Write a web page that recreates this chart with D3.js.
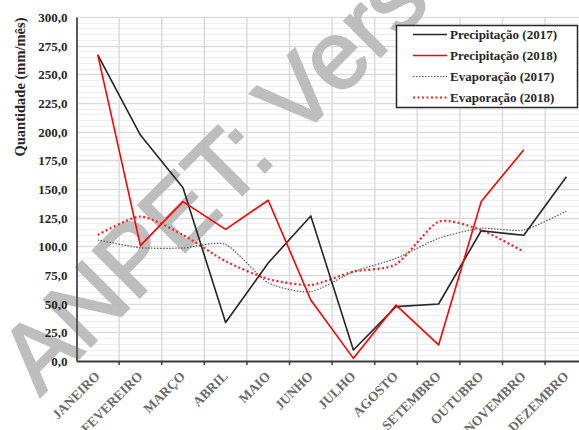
<!DOCTYPE html>
<html>
<head>
<meta charset="utf-8">
<script src="https://cdn.jsdelivr.net/npm/d3@7/dist/d3.min.js"></script>
<style>
  body { margin: 0; background: #fff; }
  svg { display: block; }
</style>
</head>
<body>
<div id="chart"></div>
<script>
var categories = ["JANEIRO", "FEVEREIRO", "MARÇO", "ABRIL", "MAIO", "JUNHO", "JULHO", "AGOSTO", "SETEMBRO", "OUTUBRO", "NOVEMBRO", "DEZEMBRO"]
var precip2017 = [267, 197, 151, 33.5, 85.5, 126.5, 9.6, 47.4, 49.7, 113.6, 109.6, 160.7]
var precip2018 = [267, 100.6, 139, 114.8, 140.2, 53.2, 2.3, 48.8, 14, 139, 184.3, null]
var evap2017 = [105.5, 98.8, 98.5, 101.7, 68.3, 60.5, 77.9, 89.5, 107, 115.7, 114.2, 130.8]
var evap2018 = [110, 126, 110, 87, 71.5, 66.3, 77.9, 84.3, 121.5, 114.2, 95.3, null]
var yTicks = [0, 25, 50, 75, 100, 125, 150, 175, 200, 225, 250, 275, 300]
var seriesNames = ["Precipitação (2017)", "Precipitação (2018)", "Evaporação (2017)", "Evaporação (2018)"]

var SERIF = "'Liberation Serif', 'DejaVu Serif', 'Times New Roman', serif"
var width = 579, height = 430
var plot = { "left": 76.5, "top": 17, "bottom": 361, "band": 42.6 }
plot.right = plot.left + plot.band * categories.length

var svg = d3.select("#chart").append("svg")
  .attr("width", width)
  .attr("height", height)

var x = d3.scaleBand()
  .domain(categories)
  .range([plot.left, plot.right])
var y = d3.scaleLinear()
  .domain([0, 300])
  .range([plot.bottom, plot.top])

// minor gridlines every 5, major every 25
var grid = svg.append("g").attr("class", "grid")
grid.selectAll("line.minor")
  .data(d3.range(5, 300, 5).filter(function(v) { return v % 25 != 0 }))
  .enter().append("line")
    .attr("x1", plot.left).attr("x2", plot.right)
    .attr("y1", function(v) { return Math.round(y(v)) + 0.5 })
    .attr("y2", function(v) { return Math.round(y(v)) + 0.5 })
    .attr("stroke", "#eeeeee")
    .attr("stroke-width", 1)
grid.selectAll("line.major")
  .data(yTicks.slice(1))
  .enter().append("line")
    .attr("x1", plot.left).attr("x2", plot.right)
    .attr("y1", function(v) { return Math.round(y(v)) + 0.5 })
    .attr("y2", function(v) { return Math.round(y(v)) + 0.5 })
    .attr("stroke", "#dcdcdc")
    .attr("stroke-width", 1.5)
grid.selectAll("line.vert")
  .data(categories.slice(1))
  .enter().append("line")
    .attr("x1", function(c) { return x(c) })
    .attr("x2", function(c) { return x(c) })
    .attr("y1", plot.top).attr("y2", plot.bottom)
    .attr("stroke", "#dcdcdc")
    .attr("stroke-width", 1.5)

// watermark
svg.append("text")
  .attr("transform", "translate(40,397) rotate(-45)")
  .attr("font-family", "'Liberation Sans', Arial, sans-serif")
  .attr("font-size", 96)
  .attr("fill", "#b8b8b8")
  .attr("stroke", "#b8b8b8")
  .attr("stroke-width", 2.5)
  .attr("opacity", 0.9)
  .text("ANPET: Versão Preliminar")

// axes
var yAxis = d3.axisLeft(y).tickValues(yTicks).tickSize(0).tickPadding(9)
  .tickFormat(function(v) { return d3.format(".1f")(v).replace(".", ",") })
var gy = svg.append("g")
  .attr("transform", "translate(" + plot.left + ",0)")
  .call(yAxis)
gy.select(".domain").attr("stroke", "#595959").attr("stroke-width", 2)
gy.selectAll("text")
  .attr("font-family", SERIF)
  .attr("font-weight", "bold")
  .attr("font-size", 13)
  .attr("fill", "#262626")
  .attr("dy", "0.35em")

var xAxis = d3.axisBottom(x).tickSize(0).tickFormat("")
var gx = svg.append("g")
  .attr("transform", "translate(0," + plot.bottom + ")")
  .call(xAxis)
gx.select(".domain").attr("stroke", "#3a3a3a").attr("stroke-width", 2)
gx.selectAll("line.bound")
  .data(categories.slice(1))
  .enter().append("line")
    .attr("x1", function(c) { return x(c) })
    .attr("x2", function(c) { return x(c) })
    .attr("y1", 0).attr("y2", 4)
    .attr("stroke", "#3a3a3a")
    .attr("stroke-width", 1.5)
gx.selectAll("text.cat")
  .data(categories)
  .enter().append("text")
    .attr("font-family", SERIF)
    .attr("font-weight", "bold")
    .attr("font-size", 13.5)
    .attr("fill", "#6b6b6b")
    .attr("text-anchor", "end")
    .attr("transform", function(c) {
      return "translate(" + (x(c) + x.bandwidth() / 2 + 3) + ",16) rotate(-45)"
    })
    .text(function(c) { return c })

svg.append("text")
  .attr("font-family", SERIF)
  .attr("font-weight", "bold")
  .attr("font-size", 14.5)
  .attr("fill", "#262626")
  .attr("transform", "translate(25,87) rotate(-90)")
  .attr("text-anchor", "middle")
  .text("Quantidade (mm/mês)")

// series
var cx = function(d, i) { return x(categories[i]) + x.bandwidth() / 2 }
var series = [
  { "values": precip2017, "color": "#262626", "width": 1.6, "dash": null, "curve": d3.curveLinear },
  { "values": precip2018, "color": "#ff0000", "width": 1.6, "dash": null, "curve": d3.curveLinear },
  { "values": evap2017, "color": "#595959", "width": 1.2, "dash": "1.5,1.5", "curve": d3.curveCardinal.tension(0.35) },
  { "values": evap2018, "color": "#ff2020", "width": 2.2, "dash": "2,2.5", "curve": d3.curveCardinal.tension(0.35) }
]
var drawOrder = [2, 3, 0, 1]
drawOrder.forEach(function(s) {
  var ser = series[s]
  var line = d3.line()
    .defined(function(d) { return d != null })
    .x(cx)
    .y(function(d) { return y(d) })
    .curve(ser.curve)
  svg.append("path")
    .attr("d", line(ser.values))
    .attr("fill", "none")
    .attr("stroke", ser.color)
    .attr("stroke-width", ser.width)
    .attr("stroke-dasharray", ser.dash)
    .attr("stroke-linejoin", "round")
})

// legend
var legend = svg.append("g").attr("class", "legend")
legend.append("rect")
  .attr("x", 396.5).attr("y", 25.5)
  .attr("width", 181).attr("height", 82)
  .attr("fill", "#fff")
  .attr("stroke", "#262626")
  .attr("stroke-width", 1.5)
seriesNames.forEach(function(name, i) {
  var ly = 34.5 + i * 21
  legend.append("line")
    .attr("x1", 413).attr("x2", 447)
    .attr("y1", ly).attr("y2", ly)
    .attr("stroke", series[i].color)
    .attr("stroke-width", series[i].width)
    .attr("stroke-dasharray", series[i].dash)
  legend.append("text")
    .attr("font-family", SERIF)
    .attr("font-weight", "bold")
    .attr("font-size", 13)
    .attr("fill", "#262626")
    .attr("x", 450).attr("y", ly)
    .attr("dy", "0.35em")
    .text(name)
})
</script>
</body>
</html>
